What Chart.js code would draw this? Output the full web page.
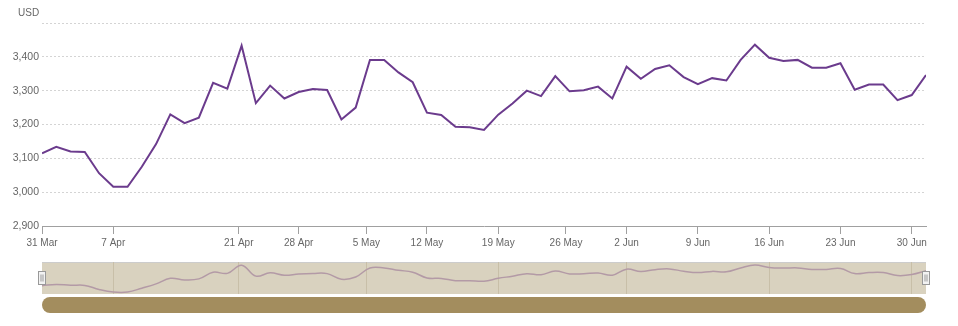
<!DOCTYPE html>
<html>
<head>
<meta charset="utf-8">
<script src="https://cdn.jsdelivr.net/npm/chart.js@4.4.1/dist/chart.umd.min.js"></script>
<style>
    html, body { margin: 0; padding: 0; background: #ffffff; }
    #wrap { position: relative; width: 958px; height: 326px; }
    #mainChart { position: absolute; left: 0; top: 0; }
    #navChart { position: absolute; left: 0; top: 255px; }
</style>
</head>
<body>
<div id="wrap">
    <canvas id="mainChart" width="958" height="255"></canvas>
    <canvas id="navChart" width="958" height="71"></canvas>
</div>
<script>
// 交易日（周末和伦敦假日不计）
var dates = [
    '2025-03-31', '2025-04-01', '2025-04-02', '2025-04-03', '2025-04-04',
    '2025-04-07', '2025-04-08', '2025-04-09', '2025-04-10', '2025-04-11',
    '2025-04-14', '2025-04-15', '2025-04-16', '2025-04-17',
    '2025-04-22', '2025-04-23', '2025-04-24', '2025-04-25',
    '2025-04-28', '2025-04-29', '2025-04-30', '2025-05-01', '2025-05-02',
    '2025-05-06', '2025-05-07', '2025-05-08', '2025-05-09',
    '2025-05-12', '2025-05-13', '2025-05-14', '2025-05-15', '2025-05-16',
    '2025-05-19', '2025-05-20', '2025-05-21', '2025-05-22', '2025-05-23',
    '2025-05-27', '2025-05-28', '2025-05-29', '2025-05-30',
    '2025-06-02', '2025-06-03', '2025-06-04', '2025-06-05', '2025-06-06',
    '2025-06-09', '2025-06-10', '2025-06-11', '2025-06-12', '2025-06-13',
    '2025-06-16', '2025-06-17', '2025-06-18', '2025-06-19', '2025-06-20',
    '2025-06-23', '2025-06-24', '2025-06-25', '2025-06-26', '2025-06-27',
    '2025-06-30', '2025-07-01'
];

// 金价 (USD)
var prices = [
    3115, 3134, 3120, 3119, 3056,
    3016, 3016, 3075, 3142, 3230,
    3204, 3220, 3323, 3306,
    3433, 3263, 3315, 3277,
    3296, 3305, 3302, 3215, 3250,
    3391, 3391, 3354, 3325,
    3235, 3228, 3193, 3192, 3184,
    3229, 3262, 3300, 3284, 3343,
    3298, 3301, 3312, 3277,
    3371, 3335, 3364, 3375, 3340,
    3319, 3337, 3330, 3391, 3436,
    3397, 3388, 3391, 3368, 3368,
    3381, 3303, 3318, 3318, 3272,
    3287, 3346
];

// 横轴刻度
var tickDates = [
    '2025-03-31', '2025-04-07', '2025-04-21', '2025-04-28', '2025-05-05',
    '2025-05-12', '2025-05-19', '2025-05-26', '2025-06-02', '2025-06-09',
    '2025-06-16', '2025-06-23', '2025-06-30'
];
var tickLabels = [
    '31 Mar', '7 Apr', '21 Apr', '28 Apr', '5 May',
    '12 May', '19 May', '26 May', '2 Jun', '9 Jun',
    '16 Jun', '23 Jun', '30 Jun'
];
// 导航栏的竖线（两周一条）
var navTickDates = [
    '2025-04-07', '2025-04-21', '2025-05-05', '2025-05-19',
    '2025-06-02', '2025-06-16', '2025-06-30'
];

var yTicks = [2900, 3000, 3100, 3200, 3300, 3400, 3500];

var LINE_COLOR = '#6b3b8d';
var TEXT_COLOR = '#666666';
var FONT_FAMILY = '"Liberation Sans", Arial, sans-serif';

// 序数轴：把日期换算成交易日序号（假日按天数插值）
function ordinalPos(dateStr) {
    var t = Date.parse(dateStr);
    for (var i = 0; i < dates.length - 1; i++) {
        var a = Date.parse(dates[i]);
        var b = Date.parse(dates[i + 1]);
        if (t >= a && t <= b) {
            return i + (t - a) / (b - a);
        }
    }
    return dates.length - 1;
}

var tickPositions = tickDates.map(ordinalPos);
var navTickPositions = navTickDates.map(ordinalPos);

var points = prices.map(function(v, i) {
    return { x: i, y: v };
});

// 左上角的单位
var unitLabelPlugin = {
    id: 'unitLabel',
    afterDraw: function(chart) {
        var ctx = chart.ctx;
        ctx.save();
        ctx.fillStyle = TEXT_COLOR;
        ctx.font = '10px ' + FONT_FAMILY;
        ctx.textBaseline = 'middle';
        ctx.textAlign = 'left';
        ctx.fillText('USD', 18, 13);
        ctx.restore();
    }
};

var mainChart = new Chart(document.getElementById('mainChart'), {
    type: 'line',
    data: {
        datasets: [{
            data: points,
            borderColor: LINE_COLOR,
            borderWidth: 2,
            pointRadius: 0,
            tension: 0,
            fill: false
        }]
    },
    options: {
        responsive: false,
        animation: false,
        layout: { padding: { top: 23, right: 32, left: 0, bottom: 0 } },
        plugins: {
            legend: { display: false },
            tooltip: { enabled: false }
        },
        scales: {
            x: {
                type: 'linear',
                min: 0,
                max: dates.length - 1,
                afterBuildTicks: function(scale) {
                    scale.ticks = tickPositions.map(function(p) {
                        return { value: p };
                    });
                },
                afterFit: function(scale) {
                    scale.height = 29;
                },
                ticks: {
                    autoSkip: false,
                    maxRotation: 0,
                    padding: 3,
                    color: TEXT_COLOR,
                    font: { family: FONT_FAMILY, size: 10 },
                    callback: function(value, index) {
                        return tickLabels[index];
                    }
                },
                grid: {
                    drawOnChartArea: false,
                    drawTicks: true,
                    tickLength: 8,
                    tickColor: '#a0a0a0'
                },
                border: { color: '#a0a0a0', width: 1 }
            },
            y: {
                min: 2900,
                max: 3500,
                afterBuildTicks: function(scale) {
                    scale.ticks = yTicks.map(function(v) {
                        return { value: v };
                    });
                },
                afterFit: function(scale) {
                    scale.width = 42;
                },
                ticks: {
                    padding: 3,
                    color: TEXT_COLOR,
                    font: { family: FONT_FAMILY, size: 10.5 },
                    callback: function(value) {
                        // 顶部刻度不标数字
                        if (value === 3500) return '';
                        return value.toLocaleString('en-US');
                    }
                },
                grid: {
                    color: '#d4d4d4',
                    drawTicks: false
                },
                border: { display: false, dash: [2, 2] }
            }
        }
    },
    plugins: [unitLabelPlugin]
});

// 导航栏背景、手柄和滚动条
var navDecorPlugin = {
    id: 'navDecor',
    beforeDraw: function(chart) {
        var ctx = chart.ctx;
        var area = chart.chartArea;
        ctx.save();
        ctx.fillStyle = '#d9d2bf';
        ctx.fillRect(area.left, area.top, area.right - area.left, area.bottom - area.top);
        ctx.strokeStyle = '#cccccc';
        ctx.lineWidth = 1;
        ctx.beginPath();
        ctx.moveTo(area.left, area.top + 0.5);
        ctx.lineTo(area.right, area.top + 0.5);
        ctx.stroke();
        ctx.restore();
    },
    afterDraw: function(chart) {
        var ctx = chart.ctx;
        var area = chart.chartArea;
        ctx.save();

        // 滚动条
        ctx.fillStyle = '#a38d5e';
        ctx.beginPath();
        if (ctx.roundRect) {
            ctx.roundRect(area.left, 42, area.right - area.left, 16, 8);
        } else {
            ctx.rect(area.left, 42, area.right - area.left, 16);
        }
        ctx.fill();

        // 左右手柄
        [area.left, area.right].forEach(function(x) {
            var hx = Math.round(x) - 4 + 0.5;
            ctx.fillStyle = '#f2f2f2';
            ctx.strokeStyle = '#999999';
            ctx.lineWidth = 1;
            ctx.fillRect(hx, 16.5, 7, 13);
            ctx.strokeRect(hx, 16.5, 7, 13);
            ctx.beginPath();
            ctx.moveTo(hx + 2.5, 19.5);
            ctx.lineTo(hx + 2.5, 26.5);
            ctx.moveTo(hx + 4.5, 19.5);
            ctx.lineTo(hx + 4.5, 26.5);
            ctx.stroke();
        });
        ctx.restore();
    }
};

var navChart = new Chart(document.getElementById('navChart'), {
    type: 'line',
    data: {
        datasets: [{
            data: points,
            borderColor: '#b39aa6',
            borderWidth: 1.5,
            pointRadius: 0,
            tension: 0.4,
            fill: false
        }]
    },
    options: {
        responsive: false,
        animation: false,
        layout: { padding: { top: 7, right: 32, left: 42, bottom: 32 } },
        plugins: {
            legend: { display: false },
            tooltip: { enabled: false }
        },
        scales: {
            x: {
                type: 'linear',
                min: 0,
                max: dates.length - 1,
                afterBuildTicks: function(scale) {
                    scale.ticks = navTickPositions.map(function(p) {
                        return { value: p };
                    });
                },
                afterFit: function(scale) {
                    scale.height = 0;
                },
                ticks: { display: false },
                grid: { color: '#c8bfa8', drawTicks: false },
                border: { display: false }
            },
            y: {
                display: false,
                min: 2985,
                max: 3483
            }
        }
    },
    plugins: [navDecorPlugin]
});
</script>
</body>
</html>
